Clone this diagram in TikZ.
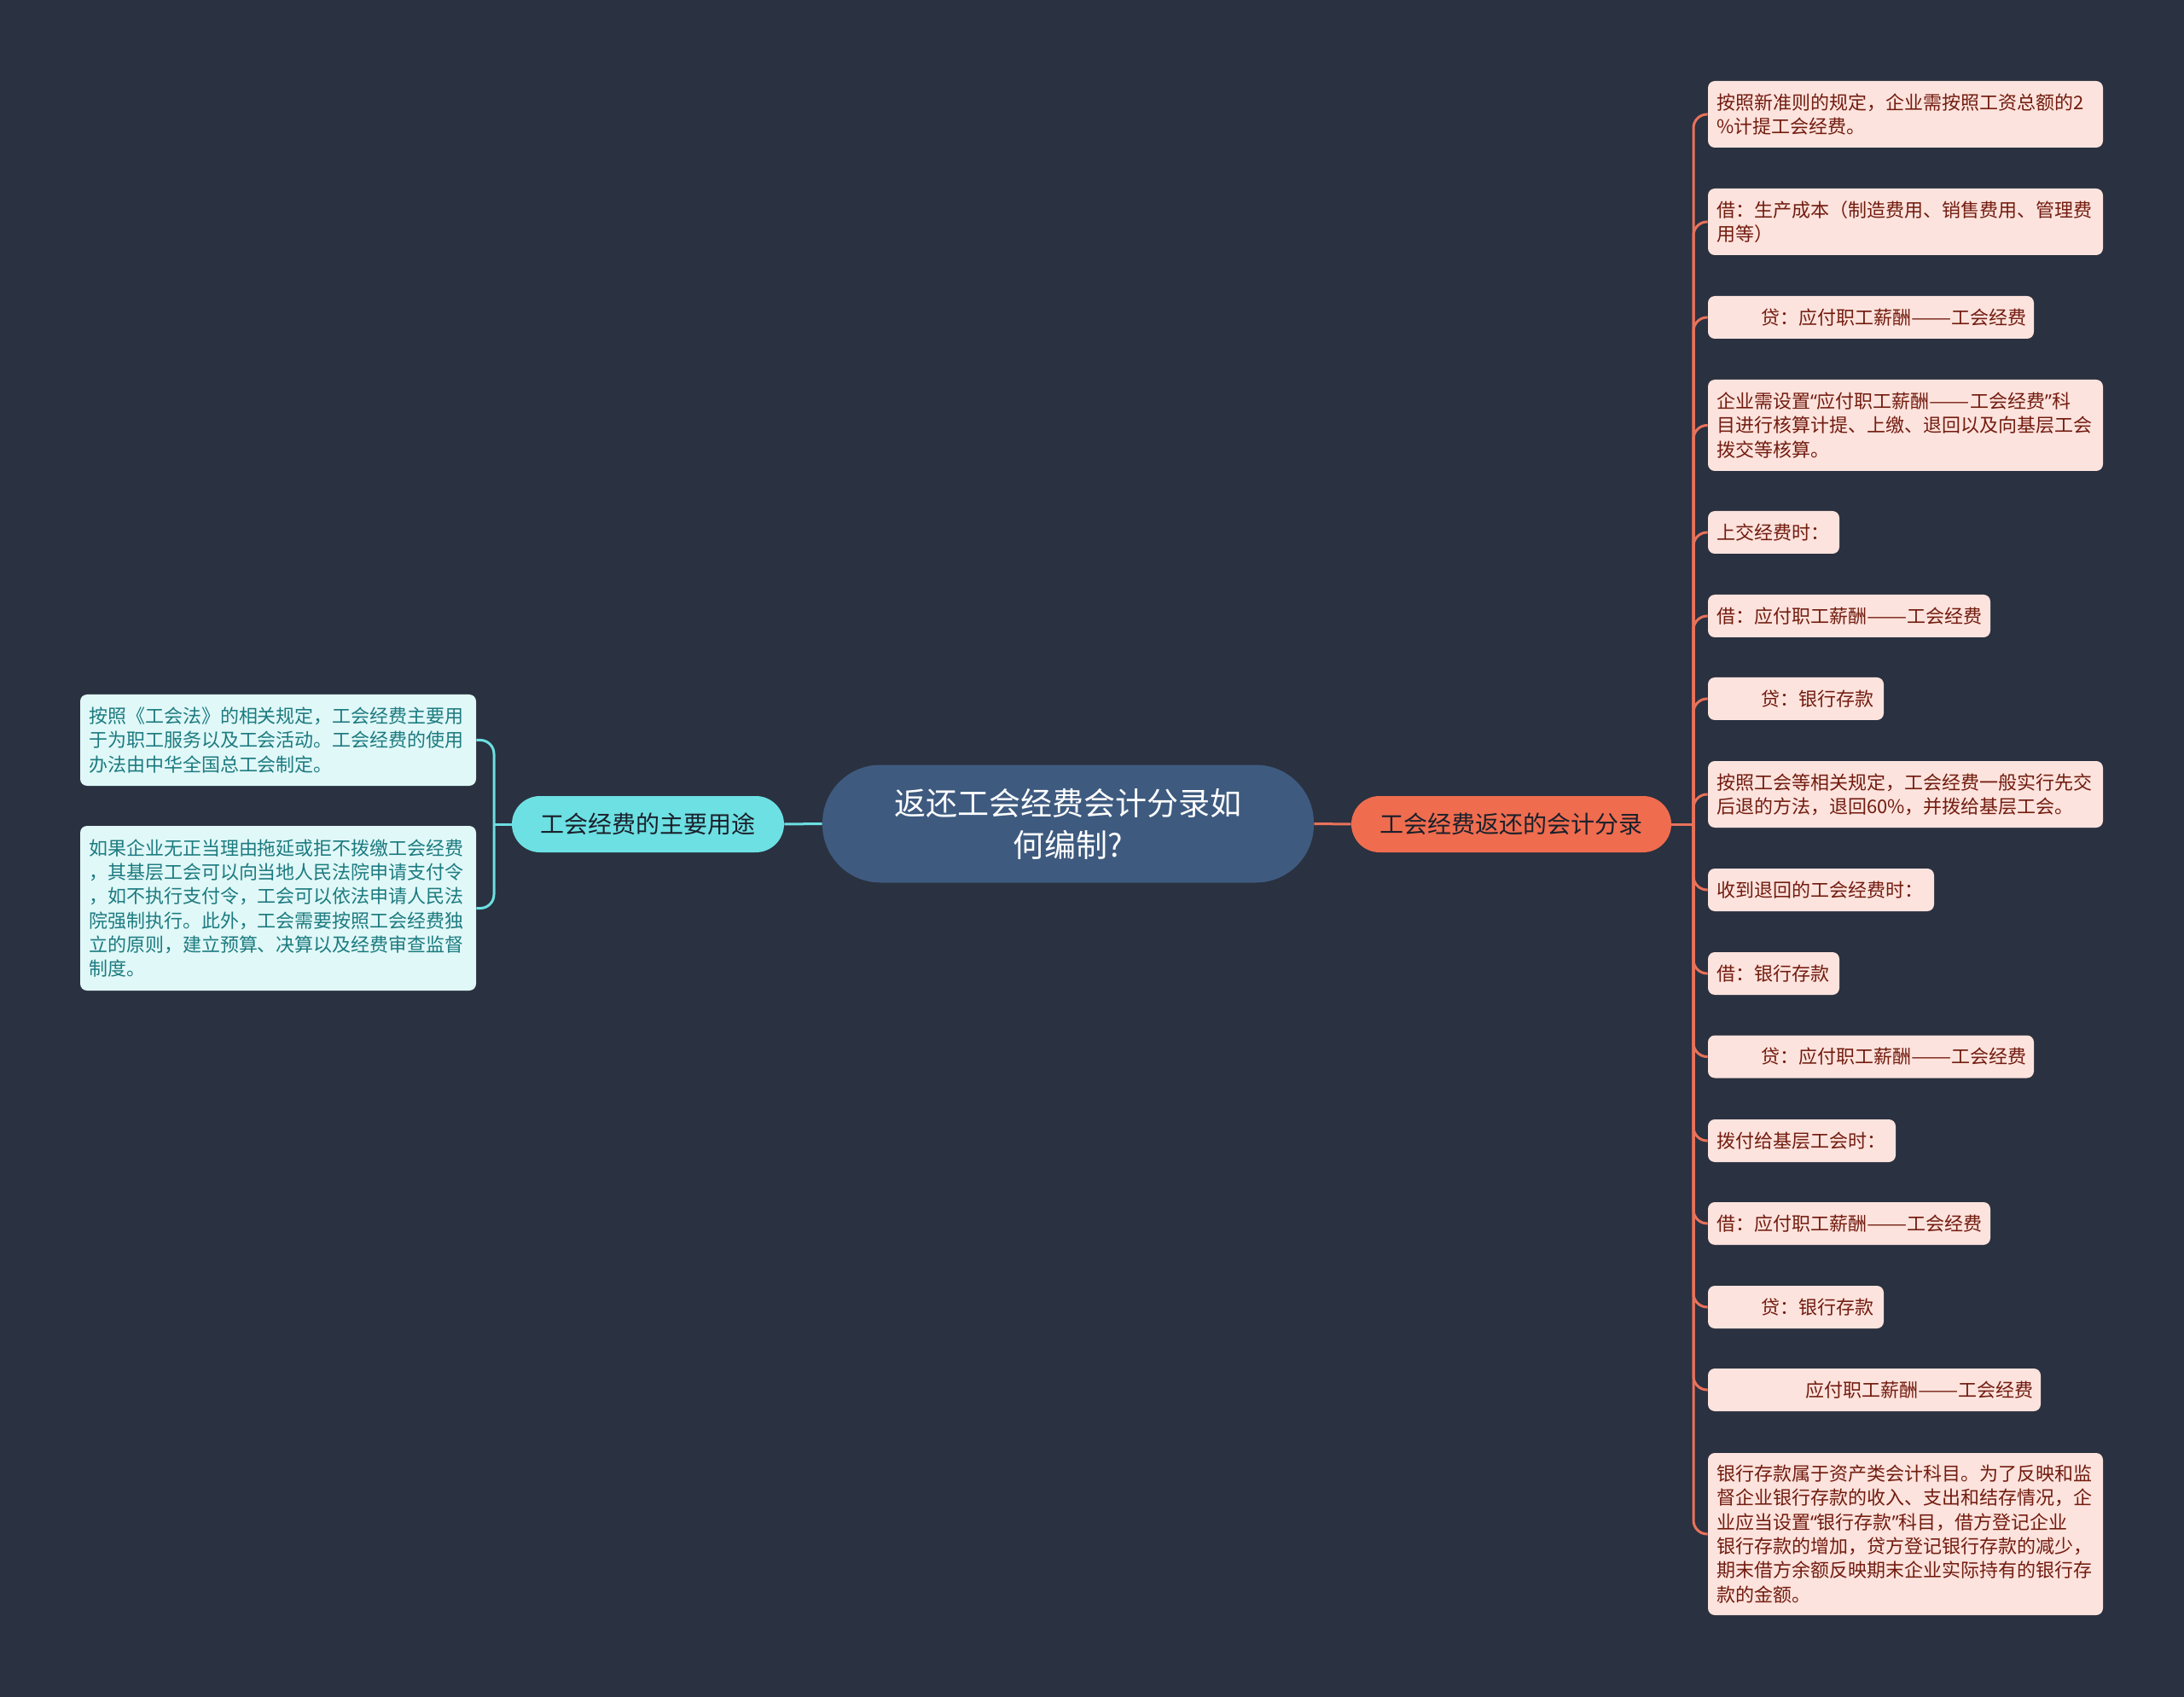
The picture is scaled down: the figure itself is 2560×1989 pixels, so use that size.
\documentclass[tikz,border=0pt]{standalone}
\usepackage{fontspec}
\setmainfont{Noto Sans CJK SC}
\newfontfamily\latq{Noto Sans}
\XeTeXlinebreaklocale "zh"
\XeTeXlinebreakskip=0pt plus 1pt
\newcommand\mydd{\scalebox{1.28}[1]{——}}
\newcommand\myql{{\latq “}}
\newcommand\myqr{{\latq ”}}
\definecolor{bgc}{HTML}{2A3140}
\definecolor{cfill}{HTML}{3E5A7F}
\definecolor{lmidc}{HTML}{6CE0E2}
\definecolor{rmidc}{HTML}{EF6C4F}
\definecolor{rleafc}{HTML}{FDE3DD}
\definecolor{rtextc}{HTML}{721C10}
\definecolor{lleafc}{HTML}{E1F8F8}
\definecolor{ltextc}{HTML}{1C7B80}
\definecolor{rlinec}{HTML}{E9725A}
\definecolor{llinec}{HTML}{6CDFE2}
\definecolor{midtext}{HTML}{1A202B}
\begin{document}
\begin{tikzpicture}[x=0.5pt,y=-0.5pt,
  leafR/.style={fill=rleafc,text=rtextc,rounded corners=4pt,inner xsep=5pt,inner ysep=1pt,align=left,
    font=\fontsize{11pt}{14.15pt}\selectfont},
  leafL/.style={fill=lleafc,text=ltextc,rounded corners=4pt,inner xsep=5pt,inner ysep=1pt,align=left,
    font=\fontsize{11pt}{14.15pt}\selectfont},
  midnode/.style={inner sep=0pt,minimum height=33pt,rounded corners=16.5pt,text=midtext,
    font=\fontsize{14pt}{17pt}\selectfont},
  rline/.style={draw=rlinec,line width=1.5pt},
  lline/.style={draw=llinec,line width=1.5pt}
]
\fill[bgc] (0,0) rectangle (2560,1989);
\useasboundingbox (0,0) rectangle (2560,1989);

% central node
\node[fill=cfill,text=white,inner sep=0pt,minimum width=288pt,minimum height=69pt,rounded corners=34pt,
  align=center,font=\fontsize{18.5pt}{24.5pt}\selectfont] (c) at (1252,965.5)
  {返还工会经费会计分录如\\何编制?};

% main branches
\node[midnode,fill=lmidc,minimum width=159.5pt] (lmid) at (759.5,966) {工会经费的主要用途};
\node[midnode,fill=rmidc,minimum width=187.5pt] (rmid) at (1771.5,966) {工会经费返还的会计分录};

\draw[lline] (c.west) -- (lmid.east);
\draw[rline] (c.east) -- (rmid.west);

% left leaves
\node[leafL,text width=222pt,minimum height=53.5pt] (l1) at (326,867.5)
  {按照《工会法》的相关规定，工会经费主要用\\于为职工服务以及工会活动。工会经费的使用\\办法由中华全国总工会制定。};
\node[leafL,text width=222pt,minimum height=96.5pt] (l2) at (326,1064.5)
  {如果企业无正当理由拖延或拒不拨缴工会经费\\，其基层工会可以向当地人民法院申请支付令\\，如不执行支付令，工会可以依法申请人民法\\院强制执行。此外，工会需要按照工会经费独\\立的原则，建立预算、决算以及经费审查监督\\制度。};

\coordinate (lhub) at (579,966);
\draw[lline] (lmid.west) -- (lhub);
\draw[lline,rounded corners=8pt] (lhub) |- (l1.east);
\draw[lline,rounded corners=8pt] (lhub) |- (l2.east);

% right leaves
\node[leafR,text width=221.5pt,minimum height=39pt] (r1) at (2233.5,134)
  {按照新准则的规定，企业需按照工资总额的2\\\%计提工会经费。};
\node[leafR,text width=221.5pt,minimum height=39pt] (r2) at (2233.5,260)
  {借：生产成本（制造费用、销售费用、管理费\\用等）};
\node[leafR,text width=181pt,minimum height=25pt] (r3) at (2193,372)
  {\mbox{\hspace*{26pt}贷：应付职工薪酬\mydd 工会经费}};
\node[leafR,text width=221.5pt,minimum height=53.5pt] (r4) at (2233.5,498.5)
  {企业需设置\myql 应付职工薪酬\mydd 工会经费\myqr 科\\目进行核算计提、上缴、退回以及向基层工会\\拨交等核算。};
\node[leafR,text width=67pt,minimum height=25pt] (r5) at (2079,624)
  {\mbox{上交经费时：}};
\node[leafR,text width=155.5pt,minimum height=25pt] (r6) at (2167.5,722)
  {\mbox{借：应付职工薪酬\mydd 工会经费}};
\node[leafR,text width=93pt,minimum height=25pt] (r7) at (2105,819)
  {\mbox{\hspace*{26pt}贷：银行存款}};
\node[leafR,text width=221.5pt,minimum height=39pt] (r8) at (2233.5,931)
  {按照工会等相关规定，工会经费一般实行先交\\后退的方法，退回60\%，并拨给基层工会。};
\node[leafR,text width=122.5pt,minimum height=25pt] (r9) at (2134.5,1043)
  {\mbox{收到退回的工会经费时：}};
\node[leafR,text width=67pt,minimum height=25pt] (r10) at (2079,1141)
  {\mbox{借：银行存款}};
\node[leafR,text width=181pt,minimum height=25pt] (r11) at (2193,1238.5)
  {\mbox{\hspace*{26pt}贷：应付职工薪酬\mydd 工会经费}};
\node[leafR,text width=100pt,minimum height=25pt] (r12) at (2112,1337)
  {\mbox{拨付给基层工会时：}};
\node[leafR,text width=155.5pt,minimum height=25pt] (r13) at (2167.5,1434)
  {\mbox{借：应付职工薪酬\mydd 工会经费}};
\node[leafR,text width=93pt,minimum height=25pt] (r14) at (2105,1532)
  {\mbox{\hspace*{26pt}贷：银行存款}};
\node[leafR,text width=185pt,minimum height=25pt] (r15) at (2197,1629)
  {\mbox{\hspace*{52pt}应付职工薪酬\mydd 工会经费}};
\node[leafR,text width=221.5pt,minimum height=95pt] (r16) at (2233.5,1798)
  {银行存款属于资产类会计科目。为了反映和监\\督企业银行存款的收入、支出和结存情况，企\\业应当设置\myql 银行存款\myqr 科目，借方登记企业\\银行存款的增加，贷方登记银行存款的减少，\\期末借方余额反映期末企业实际持有的银行存\\款的金额。};

\coordinate (rhub) at (1985,966);
\draw[rline] (rmid.east) -- (rhub);
\foreach \n in {r1,r2,r3,r4,r5,r6,r7,r8,r9,r10,r11,r12,r13,r14,r15,r16}
  \draw[rline,rounded corners=8pt] (rhub) |- (\n.west);
\end{tikzpicture}
\end{document}
